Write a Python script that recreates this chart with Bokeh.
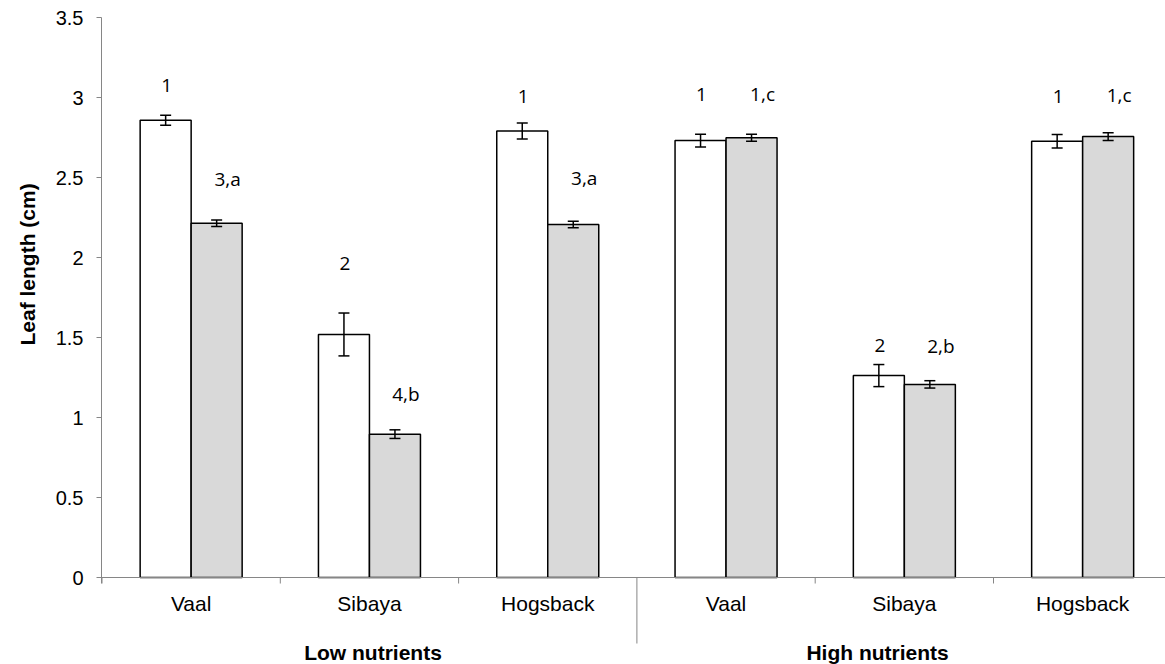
from bokeh.plotting import figure
from bokeh.models import Range1d, FixedTicker, Title
from bokeh.core.properties import value
from bokeh.embed import file_html
from bokeh.resources import INLINE

# Leaf length (cm) per population, under low and high nutrient supply
categories = ["Vaal", "Sibaya", "Hogsback", "Vaal", "Sibaya", "Hogsback"]
groups = ["Low nutrients", "High nutrients"]

white_vals = [2.858, 1.519, 2.790, 2.731, 1.262, 2.727]
white_err = [0.031, 0.134, 0.050, 0.040, 0.069, 0.042]
grey_vals = [2.214, 0.896, 2.206, 2.748, 1.207, 2.756]
grey_err = [0.021, 0.027, 0.020, 0.022, 0.023, 0.024]

white_labels = ["1", "2", "1", "1", "2", "1"]
grey_labels = ["3,a", "4,b", "3,a", "1,c", "2,b", "1,c"]
white_label_y = [3.075, 1.96, 3.006, 3.02, 1.45, 3.006]
grey_label_y = [2.49, 1.15, 2.50, 3.02, 1.45, 3.017]

y_ticks = [0, 0.5, 1, 1.5, 2, 2.5, 3, 3.5]

# layout (pixels)
W, H = 1165, 664
LEFT, TOP, BASE = 101, 17, 577
CAT_PX = 178.3
Y_PX = 160.0
BAR_PX = 51
AXIS_COL = "#868686"
SANS = "Liberation Sans"
LBL_FONT = "Open Sans"
FS = "20px"
CAT_FS = "21px"

bw = BAR_PX / CAT_PX
centers = [i + 0.5 for i in range(len(categories))]
wx = [c - bw / 2 for c in centers]
gx = [c + bw / 2 for c in centers]

p = figure(width=W, height=H, output_backend="svg", toolbar_location=None,
           x_range=Range1d(-0.5 / CAT_PX, (W - LEFT - 0.5) / CAT_PX),
           y_range=Range1d(-(H - BASE) / Y_PX, 3.5),
           min_border_left=LEFT, min_border_right=0,
           min_border_top=TOP, min_border_bottom=0)
p.xaxis.visible = False
p.xgrid.visible = False
p.ygrid.visible = False
p.outline_line_color = None
p.background_fill_color = "white"
p.border_fill_color = "white"

ya = p.yaxis[0]
ya.ticker = FixedTicker(ticks=y_ticks)
ya.bounds = (-6 / Y_PX, 3.5)
ya.axis_line_color = AXIS_COL
ya.major_tick_line_color = AXIS_COL
ya.major_tick_out = 5
ya.major_tick_in = 0
ya.minor_tick_line_color = None
ya.major_label_text_font = SANS
ya.major_label_text_font_size = FS
ya.major_label_text_color = "black"
ya.major_label_standoff = 13

# y axis title, placed beside the upper part of the value axis
p.add_layout(Title(text="Leaf length (cm)", align="left", offset=319,
                   text_font=SANS, text_font_size=CAT_FS, text_font_style="bold",
                   text_color="black", standoff=27), "left")

# bars
p.vbar(x=wx, width=bw, bottom=0, top=white_vals, fill_color="white",
       line_color="black", line_width=1.5)
p.vbar(x=gx, width=bw, bottom=0, top=grey_vals, fill_color="#d9d9d9",
       line_color="black", line_width=1.5)

# error bars
cap = 5.5 / CAT_PX
for xs, vals, errs in ((wx, white_vals, white_err), (gx, grey_vals, grey_err)):
    lo = [v - e for v, e in zip(vals, errs)]
    hi = [v + e for v, e in zip(vals, errs)]
    p.segment(x0=xs, x1=xs, y0=lo, y1=hi, line_color="black", line_width=1.5)
    p.segment(x0=[x - cap for x in xs], x1=[x + cap for x in xs], y0=lo, y1=lo,
              line_color="black", line_width=1.5)
    p.segment(x0=[x - cap for x in xs], x1=[x + cap for x in xs], y0=hi, y1=hi,
              line_color="black", line_width=1.5)

# category axis: baseline, separators, labels
n = len(categories)
x_end = (W - LEFT - 0.5) / CAT_PX
p.segment(x0=[0], x1=[x_end], y0=[0], y1=[0], line_color=AXIS_COL, line_width=1)
bounds = list(range(n))
tick_len = [(66 if b == n // 2 else 6) / Y_PX for b in bounds]
p.segment(x0=bounds, x1=bounds, y0=[0] * n, y1=[-t for t in tick_len],
          line_color=AXIS_COL, line_width=1)

p.text(x=centers, y=[-26 / Y_PX] * n, text=categories,
       text_font=value(SANS), text_font_size=CAT_FS, text_color="black",
       text_align="center", text_baseline="middle")
group_x = [1.52, 4.35]
p.text(x=group_x, y=[-75 / Y_PX] * 2, text=groups,
       text_font=value(SANS), text_font_size=CAT_FS, text_font_style="bold",
       text_color="black", text_align="center", text_baseline="middle")

# significance labels
p.text(x=wx, y=white_label_y, text=white_labels, x_offset=1,
       text_font=value(LBL_FONT), text_font_size="19px", text_color="black",
       text_align="center", text_baseline="middle")
p.text(x=gx, y=grey_label_y, text=grey_labels, x_offset=11,
       text_font=value(LBL_FONT), text_font_size="19px", text_color="black",
       text_align="center", text_baseline="middle")

open("out.html", "w").write(file_html(p, INLINE))
